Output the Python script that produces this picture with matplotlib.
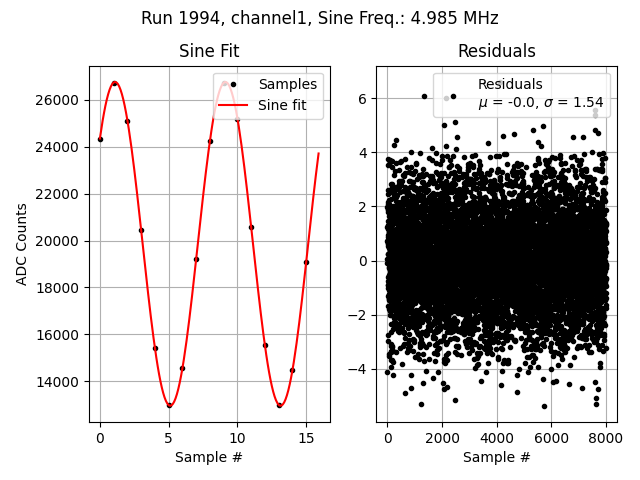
import numpy as np
import matplotlib
matplotlib.use("Agg")
import matplotlib.pyplot as plt

# ---- data ----
RUN = 1994
CHANNEL = "channel1"
SINE_FREQ_MHZ = 4.985
SAMPLE_RATE_MHZ = 40.0  # assumed ADC sampling rate

sample_index = list(range(16))
adc_counts = [24345, 26725, 25110, 20435, 15420, 12980, 14570, 19200,
              24260, 26725, 25195, 20575, 15547, 12980, 14485, 19075]

N_RESIDUALS = 8000
RES_MU = -0.0
RES_SIGMA = 1.54

# clearly visible outlying residuals (sample #, residual)
outlier_x = [1350, 2140, 4110, 2070, 7590, 7610, 5700, 5323, 4631, 4230, 2530,
             317, 244, 7584, 7706, 6790, 7146, 1641, 3683, 5505, 5615, 2141,
             0, 220, 657, 876, 865, 1240, 1313, 1422, 1677, 1837, 2042, 2056,
             2177, 2480, 3416, 3623, 4157, 4193, 4740, 4741, 5140, 5687, 5724,
             5993, 6052, 6175, 6635, 7109, 7609, 7693, 7634, 7635]
outlier_y = [6.09, 6.00, 6.60, 5.02, 5.57, 5.39, 4.96, 4.83, 4.67, 4.61, 4.56,
             4.46, 4.28, 4.83, 4.71, 4.56, 4.56, 4.16, 4.34, 4.40, 4.24, 4.22,
             -4.11, -4.23, -4.88, -4.70, -4.23, -5.29, -4.53, -4.06, -4.35,
             -4.11, -4.53, -4.76, -4.66, -5.13, -4.45, -4.11, -4.59, -4.08,
             -4.86, -4.22, -4.12, -4.37, -5.36, -4.02, -4.48, -4.45, -4.55,
             -4.70, -4.48, -4.76, -5.07, -5.29]

# ---- sine fit (linear least squares at the known frequency) ----
n = np.asarray(sample_index, dtype=float)
y = np.asarray(adc_counts, dtype=float)
w = 2 * np.pi * SINE_FREQ_MHZ / SAMPLE_RATE_MHZ
A = np.column_stack([np.sin(w * n), np.cos(w * n), np.ones_like(n)])
coef, *_ = np.linalg.lstsq(A, y, rcond=None)
x_fit = np.arange(0, 16, 0.1)
y_fit = coef[0] * np.sin(w * x_fit) + coef[1] * np.cos(w * x_fit) + coef[2]

# ---- residual noise band (unreadable individually: Gaussian with legend stats) ----
rng = np.random.default_rng(RUN)
res_x = np.arange(N_RESIDUALS)
res_y = rng.normal(RES_MU, RES_SIGMA, N_RESIDUALS)
big = np.abs(res_y) > 4.0
res_y[big] *= 0.7
res_y[np.asarray(outlier_x)] = outlier_y

# ---- plot ----
fig, (ax1, ax2) = plt.subplots(1, 2, figsize=(6.4, 4.8), dpi=100)
fig.suptitle(f"Run {RUN}, {CHANNEL}, Sine Freq.: {SINE_FREQ_MHZ} MHz")

ax1.plot(sample_index, adc_counts, "k.", label="Samples")
ax1.plot(x_fit, y_fit, "r-", label="Sine fit")
ax1.set_title("Sine Fit")
ax1.set_xlabel("Sample #")
ax1.set_ylabel("ADC Counts")
ax1.grid(True)
ax1.legend(loc="upper right")

ax2.plot(res_x, res_y, "k.",
         label=f"Residuals\n$\\mu$ = {RES_MU:.1f}, $\\sigma$ = {RES_SIGMA:.2f}")
ax2.set_title("Residuals")
ax2.set_xlabel("Sample #")
ax2.grid(True)
ax2.legend(loc="upper right")

fig.subplots_adjust(left=0.139, right=0.964, bottom=0.121, top=0.863, wspace=0.195)
fig.savefig("out.png", dpi=100)
